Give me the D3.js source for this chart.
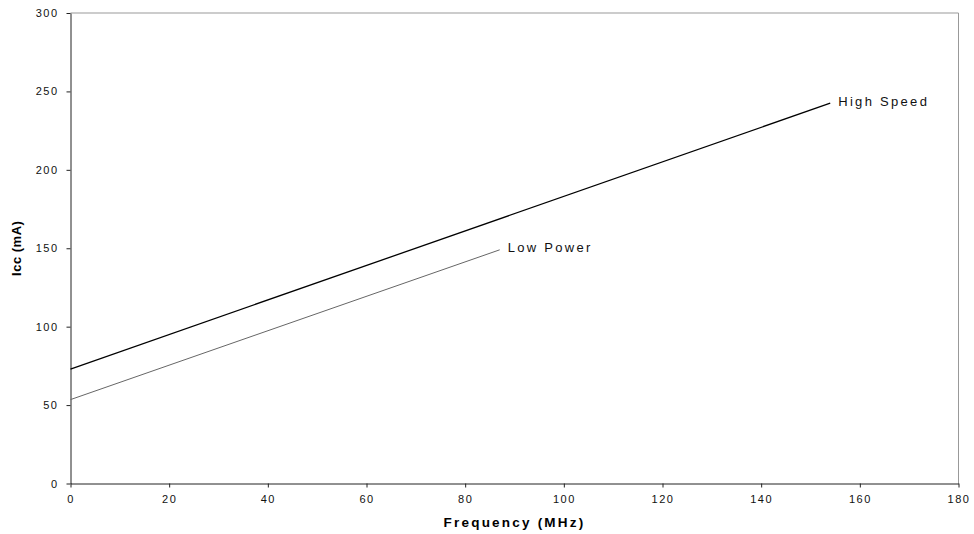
<!DOCTYPE html>
<html>
<head>
<meta charset="utf-8">
<script src="https://cdn.jsdelivr.net/npm/d3@7"></script>
<style>
  body { margin: 0; background: #fff; }
  text { font-family: "Liberation Sans", Arial, sans-serif; }
</style>
</head>
<body>
<svg id="chart"></svg>
<script>
// data
var xTicks = [0, 20, 40, 60, 80, 100, 120, 140, 160, 180];
var yTicks = [0, 50, 100, 150, 200, 250, 300];
var seriesNames = ["High Speed", "Low Power"];
var highSpeed = [[0, 73], [154, 242.5]];
var lowPower = [[0, 53.5], [87, 149]];

var svg = d3.select("#chart")
    .attr("width", 974)
    .attr("height", 534);

var plotLeft = 70.5, plotRight = 958.5, plotTop = 13, plotBottom = 483.5;

var x = d3.scaleLinear().domain([0, 180]).range([plotLeft, plotRight]);
var y = d3.scaleLinear().domain([0, 300]).range([plotBottom, plotTop]);

// top and right frame
svg.append("path")
    .attr("d", "M" + plotLeft + "," + plotTop + "H" + plotRight + "V" + plotBottom)
    .attr("fill", "none")
    .attr("stroke", "#999")
    .attr("stroke-width", 1);

var yAxis = svg.append("g")
    .attr("transform", "translate(" + plotLeft + ",0)")
    .call(d3.axisLeft(y).tickValues(yTicks).tickSize(4).tickPadding(8).tickSizeOuter(0));

var xAxis = svg.append("g")
    .attr("transform", "translate(0," + plotBottom + ")")
    .call(d3.axisBottom(x).tickValues(xTicks).tickSize(4).tickPadding(8).tickSizeOuter(0));

[yAxis, xAxis].forEach(function (g) {
    g.select(".domain").attr("stroke", "#222");
    g.selectAll(".tick line").attr("stroke", "#222");
    g.selectAll("text")
        .attr("fill", "#111")
        .style("font-size", "11px")
        .style("letter-spacing", "1.5px");
});

var line = d3.line()
    .x(d => x(d[0]))
    .y(d => y(d[1]));

var series = [
    { name: seriesNames[0], values: highSpeed, color: "#000", width: 1.3 },
    { name: seriesNames[1], values: lowPower, color: "#666", width: 1 }
];

series.forEach(function (s) {
    svg.append("path")
        .datum(s.values)
        .attr("d", line)
        .attr("fill", "none")
        .attr("stroke", s.color)
        .attr("stroke-width", s.width);

    var last = s.values[s.values.length - 1];
    svg.append("text")
        .attr("x", x(last[0]) + 8)
        .attr("y", y(last[1]) - 1)
        .attr("dominant-baseline", "middle")
        .style("font-size", "13px")
        .style("letter-spacing", "2.3px")
        .attr("fill", "#111")
        .text(s.name);
});

// axis titles
svg.append("text")
    .attr("x", (plotLeft + plotRight) / 2)
    .attr("y", 527)
    .attr("text-anchor", "middle")
    .style("font-size", "13.5px")
    .style("font-weight", "bold")
    .style("letter-spacing", "2.2px")
    .text("Frequency (MHz)");

svg.append("text")
    .attr("transform", "translate(21," + (plotTop + plotBottom) / 2 + ") rotate(-90)")
    .attr("text-anchor", "middle")
    .style("font-size", "13px")
    .style("font-weight", "bold")
    .style("letter-spacing", "0.5px")
    .text("Icc (mA)");
</script>
</body>
</html>
